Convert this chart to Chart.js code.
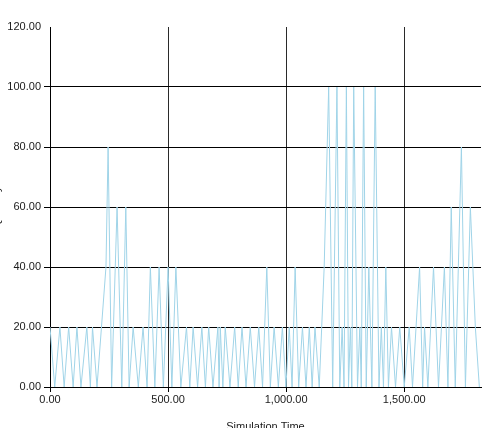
<!DOCTYPE html>
<html>
<head>
<meta charset="utf-8">
<script src="https://cdn.jsdelivr.net/npm/chart.js@4"></script>
<style>
  html, body { margin: 0; padding: 0; overflow: hidden; background: #fff; }
  #wrap { position: absolute; left: -12px; top: 0; }
</style>
</head>
<body>
<div id="wrap"><canvas id="simChart" width="497" height="440"></canvas></div>
<script>
// simulation time of each sample
const simTime = [
    0, 20, 42, 60, 79, 98, 114, 131, 156, 171, 180, 199, 237, 246, 261, 284, 304, 321, 335, 352,
    374, 394, 411, 425, 444, 462, 480, 500, 516, 533, 554, 578, 592, 606, 625, 643, 658, 672, 690, 711,
    716, 721, 732, 742, 762, 782, 797, 813, 830, 848, 866, 884, 900, 918, 933, 949, 967, 984, 999, 1013,
    1025, 1038, 1053, 1069, 1084, 1098, 1110, 1122, 1140, 1161, 1180, 1197, 1215, 1227, 1237, 1245, 1255, 1264, 1272, 1278,
    1286, 1302, 1312, 1318, 1328, 1339, 1350, 1363, 1377, 1393, 1403, 1412, 1422, 1433, 1446, 1463, 1481, 1500, 1521, 1535,
    1565, 1578, 1586, 1600, 1624, 1645, 1670, 1685, 1699, 1716, 1742, 1759, 1780, 1801, 1818
];
// sampled value at each time
const quantity = [
    20, 0, 20, 0, 20, 0, 20, 0, 20, 0, 20, 0, 40, 80, 0, 60, 0, 60, 0, 20,
    0, 20, 0, 40, 0, 40, 0, 40, 0, 40, 0, 20, 0, 20, 0, 20, 0, 20, 0, 20,
    0, 20, 0, 20, 0, 20, 0, 20, 0, 20, 0, 20, 0, 40, 0, 20, 0, 20, 0, 20,
    0, 40, 0, 20, 0, 20, 0, 20, 0, 40, 100, 0, 100, 0, 20, 0, 100, 0, 20, 0,
    100, 0, 20, 0, 100, 0, 40, 0, 100, 0, 20, 0, 40, 0, 20, 0, 20, 0, 20, 0,
    40, 0, 20, 0, 40, 0, 40, 0, 60, 0, 80, 0, 60, 20, 0
];
const xTicks = [0, 500, 1000, 1500];
const yTicks = [0, 20, 40, 60, 80, 100, 120];

const fmt = v => Number(v).toLocaleString('en-US', { minimumFractionDigits: 2, maximumFractionDigits: 2 });
const tickFont = { family: 'Liberation Sans, Arial, sans-serif', size: 11 };

new Chart(document.getElementById('simChart'), {
    type: 'line',
    data: {
        datasets: [{
            label: 'Quantity',
            data: simTime.map((t, i) => ({ x: t, y: quantity[i] })),
            borderColor: 'rgb(160, 212, 232)',
            borderWidth: 1,
            pointRadius: 0,
            tension: 0,
            fill: false
        }]
    },
    options: {
        responsive: false,
        animation: false,
        devicePixelRatio: 1,
        layout: { padding: { top: 27, right: 4, bottom: 0, left: 0 } },
        plugins: { legend: { display: false }, tooltip: { enabled: false } },
        scales: {
            x: {
                type: 'linear',
                min: 0,
                max: 1825,
                afterBuildTicks: s => { s.ticks = xTicks.map(v => ({ value: v })); },
                afterFit: s => { s.height = 53; },
                grid: { color: '#2a2a2a', lineWidth: 1, tickLength: 5, tickColor: '#000' },
                border: { color: '#000', width: 1 },
                ticks: { color: '#1a1a1a', font: tickFont, padding: 1, maxRotation: 0, callback: fmt },
                title: { display: true, text: 'Simulation Time', color: '#1a1a1a', font: tickFont, padding: { top: 4, bottom: 6 } }
            },
            y: {
                min: 0,
                max: 120,
                afterBuildTicks: s => { s.ticks = yTicks.map(v => ({ value: v })); },
                afterFit: s => { s.width = 62; },
                grid: {
                    color: c => c.tick && c.tick.value === 120 ? 'rgba(0,0,0,0)' : '#000',
                    tickColor: c => c.tick && c.tick.value === 120 ? 'rgba(0,0,0,0)' : '#000',
                    lineWidth: 1,
                    tickLength: 6
                },
                border: { color: '#000', width: 1 },
                ticks: { color: '#1a1a1a', font: tickFont, padding: 3, callback: fmt },
                title: { display: true, text: 'Quantity', color: '#1a1a1a', font: tickFont, padding: { top: 2, bottom: 4 } }
            }
        }
    }
});
</script>
</body>
</html>
